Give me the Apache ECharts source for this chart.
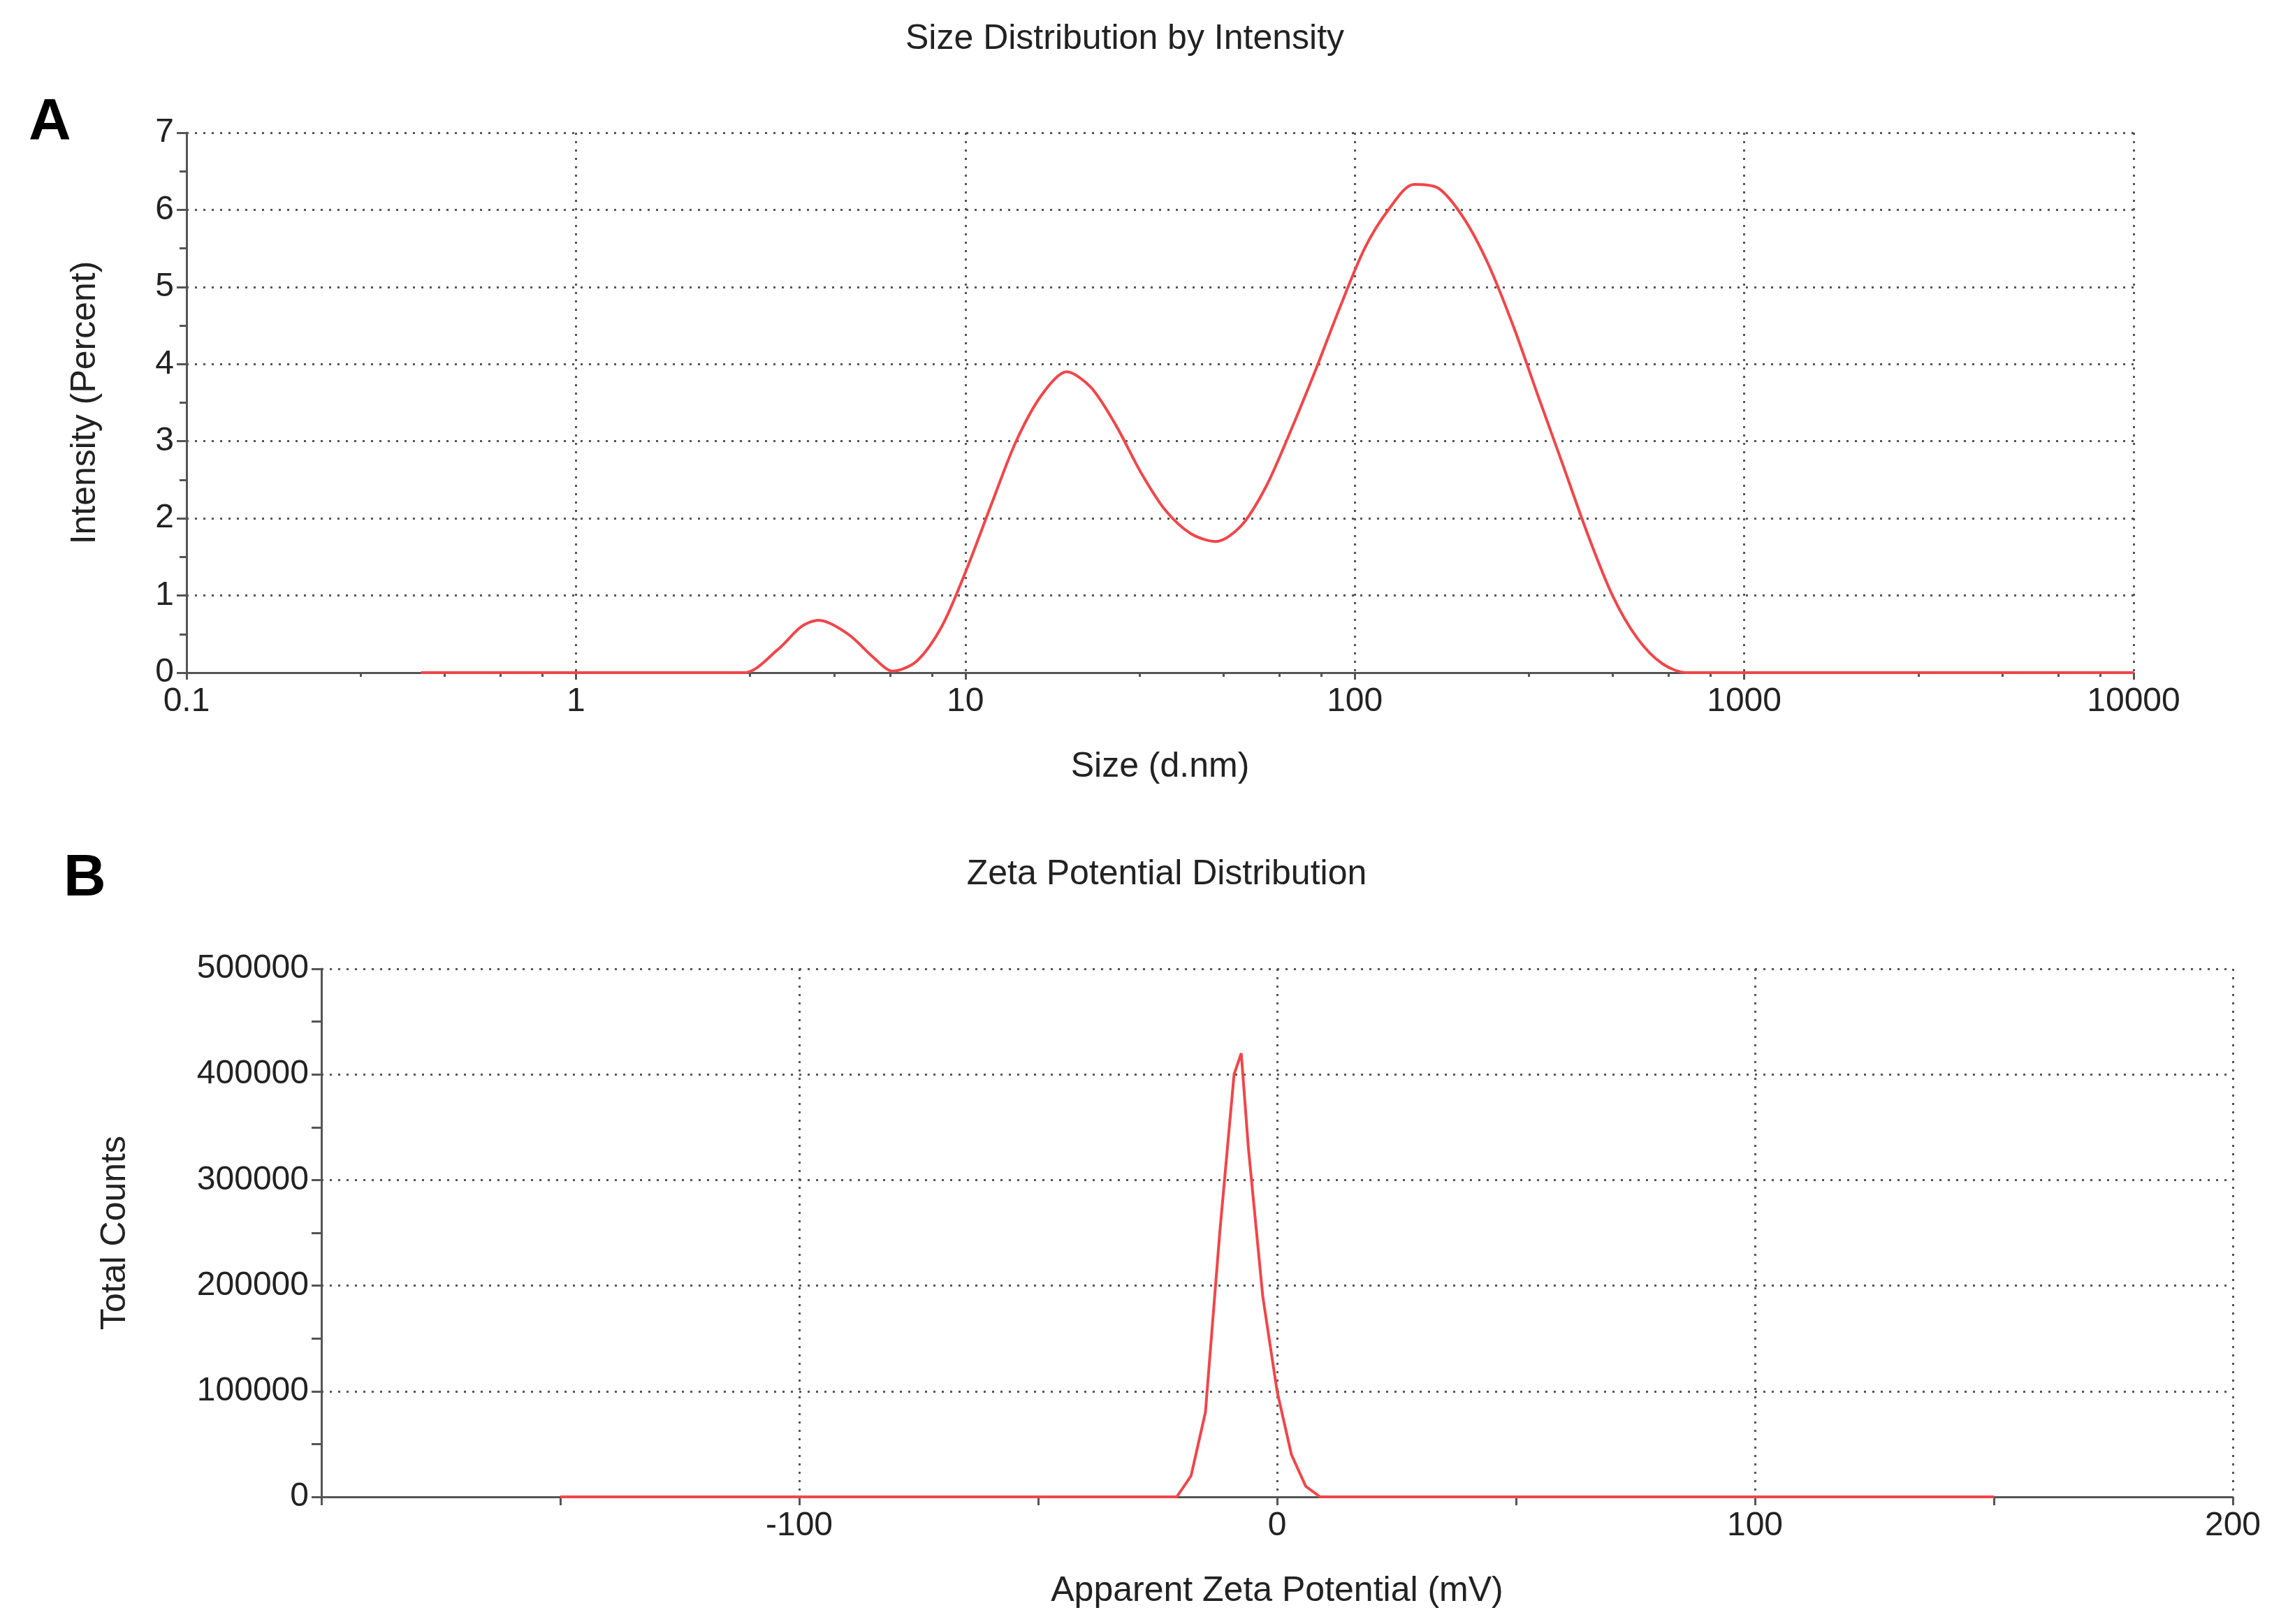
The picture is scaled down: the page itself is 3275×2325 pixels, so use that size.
<!DOCTYPE html>
<html><head><meta charset="utf-8">
<script src="https://cdn.jsdelivr.net/npm/echarts@6/dist/echarts.min.js"></script>
<style>html,body{margin:0;background:#fff}#c{width:3275px;height:2325px}</style>
</head><body><div id="c"></div>
<script>
// size distribution (d.nm, percent)
var sizeX = [0.4, 2.7, 3.3, 3.8, 4.2, 5.0, 5.8, 6.5, 7.5, 8.7, 10, 11.7, 13.5, 15.7, 18.2, 21, 24.4, 28.2, 32.7, 38, 44, 51, 59, 68, 79, 91, 106, 122, 142, 164, 190, 220, 255, 295, 342, 396, 459, 531, 615, 712, 10000];
var sizeY = [0, 0, 0.3, 0.6, 0.68, 0.5, 0.2, 0.02, 0.15, 0.6, 1.3, 2.2, 3.0, 3.6, 3.9, 3.7, 3.2, 2.6, 2.1, 1.8, 1.7, 1.9, 2.4, 3.1, 3.9, 4.7, 5.5, 6.0, 6.33, 6.28, 5.9, 5.3, 4.5, 3.6, 2.7, 1.8, 1.0, 0.45, 0.12, 0, 0];
// zeta potential (mV, counts)
var zetaX = [-150, -21, -18, -15, -12, -9, -7.5, -6, -3, 0, 3, 6, 9, 150];
var zetaY = [0, 0, 20000, 80000, 250000, 400000, 420000, 330000, 190000, 100000, 40000, 10000, 0, 0];

var font = 'Liberation Sans';
var red = '#f0464a';
function pairs(a, b) { return a.map(function (v, i) { return [v, b[i]]; }); }
var dotted = { show: true, lineStyle: { type: [3, 9], color: '#555', width: 3 } };
var axLine = { show: true, onZero: false, lineStyle: { color: '#555', width: 3 } };
var lbl = { fontFamily: font, fontSize: 48, color: '#222', margin: 18 };
var nameStyle = { fontFamily: font, fontSize: 50, color: '#222' };

var chart = echarts.init(document.getElementById('c'));
chart.setOption({
    animation: false,
    title: [
        { text: 'Size Distribution by Intensity', left: 1605, top: 26, textAlign: 'center', textStyle: { fontFamily: font, fontSize: 50, fontWeight: 'normal', color: '#222' } },
        { text: 'Zeta Potential Distribution', left: 1665, top: 1222, textAlign: 'center', textStyle: { fontFamily: font, fontSize: 50, fontWeight: 'normal', color: '#222' } },
        { text: 'A', left: 36, top: 130, textStyle: { fontFamily: font, fontSize: 84, fontWeight: 'bold', color: '#000' } },
        { text: 'B', left: 86, top: 1212, textStyle: { fontFamily: font, fontSize: 84, fontWeight: 'bold', color: '#000' } }
    ],
    grid: [
        { left: 267, right: 3275 - 3054, top: 190, height: 773 },
        { left: 460, right: 3275 - 3196, top: 1387, height: 756 }
    ],
    xAxis: [
        { gridIndex: 0, type: 'log', logBase: 10, min: 0.1, max: 10000, name: 'Size (d.nm)', nameLocation: 'middle', nameGap: 110,
          nameTextStyle: nameStyle, axisLine: axLine,
          axisTick: { show: true, length: 10, lineStyle: { color: '#555', width: 3 } },
          minorTick: { show: true, splitNumber: 5, length: 6, lineStyle: { color: '#555', width: 3 } },
          axisLabel: Object.assign({ formatter: function (v) { return String(v); } }, lbl), splitLine: dotted },
        { gridIndex: 1, type: 'value', min: -200, max: 200, interval: 100, name: 'Apparent Zeta Potential (mV)', nameLocation: 'middle', nameGap: 110,
          nameTextStyle: nameStyle, axisLine: axLine,
          axisTick: { show: true, length: 12, lineStyle: { color: '#555', width: 3 } },
          minorTick: { show: true, splitNumber: 2, length: 12, lineStyle: { color: '#555', width: 3 } },
          axisLabel: Object.assign({ formatter: function (v) { return v === -200 ? '' : String(v); } }, lbl), splitLine: dotted }
    ],
    yAxis: [
        { gridIndex: 0, type: 'value', min: 0, max: 7, interval: 1, name: 'Intensity (Percent)', nameLocation: 'middle', nameGap: 120,
          nameTextStyle: nameStyle, axisLine: axLine,
          axisTick: { show: true, length: 14, lineStyle: { color: '#555', width: 3 } },
          minorTick: { show: true, splitNumber: 2, length: 10, lineStyle: { color: '#555', width: 3 } },
          axisLabel: lbl, splitLine: dotted },
        { gridIndex: 1, type: 'value', min: 0, max: 500000, interval: 100000, name: 'Total Counts', nameLocation: 'middle', nameGap: 270,
          nameTextStyle: nameStyle, axisLine: axLine,
          axisTick: { show: true, length: 14, lineStyle: { color: '#555', width: 3 } },
          minorTick: { show: true, splitNumber: 2, length: 14, lineStyle: { color: '#555', width: 3 } },
          axisLabel: Object.assign({ formatter: function (v) { return String(v); } }, lbl), splitLine: dotted }
    ],
    series: [
        { type: 'line', xAxisIndex: 0, yAxisIndex: 0, data: pairs(sizeX, sizeY), smooth: 0.3, showSymbol: false, lineStyle: { color: red, width: 4 } },
        { type: 'line', xAxisIndex: 1, yAxisIndex: 1, data: pairs(zetaX, zetaY), showSymbol: false, lineStyle: { color: red, width: 4 } }
    ]
});
</script></body></html>
